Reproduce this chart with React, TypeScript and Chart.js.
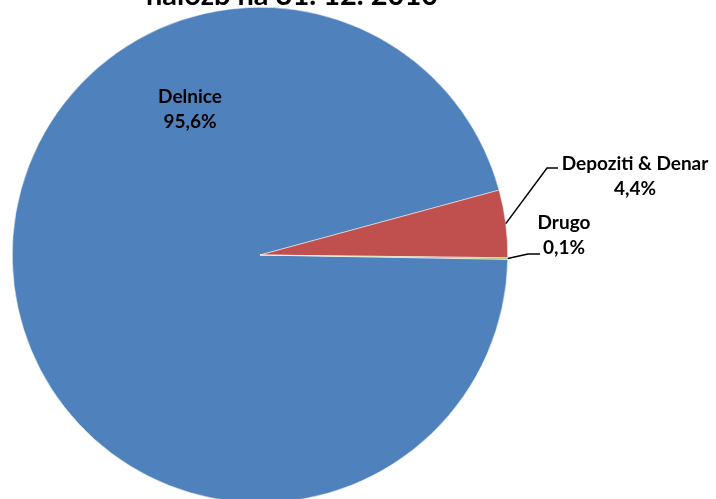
import React, { useEffect, useRef } from "react";
import { Chart, registerables } from "chart.js";

Chart.register(...registerables);

const categories = ["Delnice", "Depoziti & Denar", "Drugo"];
const shares = [95.6, 4.4, 0.1];
const shareLabels = ["95,6%", "4,4%", "0,1%"];
const sliceColors = ["#4F81BD", "#C0504D", "#9BBB59"];
const titleText = "naložb na 31. 12. 2010";

const FONT = "Lato, 'Open Sans', sans-serif";

// label placement relative to pie centre (px): text block centre + optional leader elbow/end
const labelLayout = [
  { dx: -70, dy: -146, leader: null as null | number[][] },
  { dx: 375, dy: -79, leader: [[287, -87], [298, -87]] },
  { dx: 304, dy: -20, leader: [[268, -1], [280, -1]] },
];

const labelPlugin = {
  id: "sliceLabels",
  afterDraw(chart: any) {
    const ctx = chart.ctx as CanvasRenderingContext2D;
    const meta = chart.getDatasetMeta(0);
    ctx.save();
    // title (only its lower line is inside the frame)
    ctx.fillStyle = "#000";
    ctx.font = `bold 29px ${FONT}`;
    ctx.textAlign = "center";
    ctx.textBaseline = "alphabetic";
    const cx0 = (chart.chartArea.left + chart.chartArea.right) / 2;
    ctx.fillText(titleText, cx0 + 32, 5);

    meta.data.forEach((arc: any, i: number) => {
      const p = arc.getProps(["x", "y", "startAngle", "endAngle", "outerRadius"], true);
      const lay = labelLayout[i];
      const tx = p.x + lay.dx;
      const ty = p.y + lay.dy;
      if (lay.leader) {
        const mid = (p.startAngle + p.endAngle) / 2;
        const sx = p.x + Math.cos(mid) * p.outerRadius;
        const sy = p.y + Math.sin(mid) * p.outerRadius;
        ctx.beginPath();
        ctx.moveTo(sx, sy);
        lay.leader.forEach((pt) => ctx.lineTo(p.x + pt[0], p.y + pt[1]));
        ctx.strokeStyle = "#000";
        ctx.lineWidth = 1.5;
        ctx.stroke();
      }
      ctx.fillStyle = "#000";
      ctx.font = `bold 19px ${FONT}`;
      ctx.textAlign = "center";
      ctx.textBaseline = "middle";
      ctx.fillText(categories[i], tx, ty - 12.5);
      ctx.fillText(shareLabels[i], tx, ty + 12.5);
    });
    ctx.restore();
  },
};

export default function App() {
  const ref = useRef<HTMLCanvasElement>(null);
  useEffect(() => {
    const chart = new Chart(ref.current as HTMLCanvasElement, {
      type: "pie",
      data: {
        labels: categories,
        datasets: [
          {
            data: shares,
            backgroundColor: sliceColors,
            borderColor: "#ffffff",
            borderWidth: 0.5,
          },
        ],
      },
      options: {
        responsive: false,
        animation: false,
        rotation: 91,
        layout: { padding: { left: 12, top: 7, right: 208, bottom: 17 } },
        plugins: {
          legend: { display: false },
          tooltip: { enabled: false },
          title: { display: false },
        },
      },
      plugins: [labelPlugin],
    } as any);
    return () => chart.destroy();
  }, []);
  return (
    <div
      style={{
        position: "absolute",
        left: 0,
        top: 0,
        width: 716,
        height: 499,
        overflow: "hidden",
        background: "#fff",
      }}
    >
      <canvas ref={ref} width={716} height={520} style={{ display: "block" }} />
    </div>
  );
}
